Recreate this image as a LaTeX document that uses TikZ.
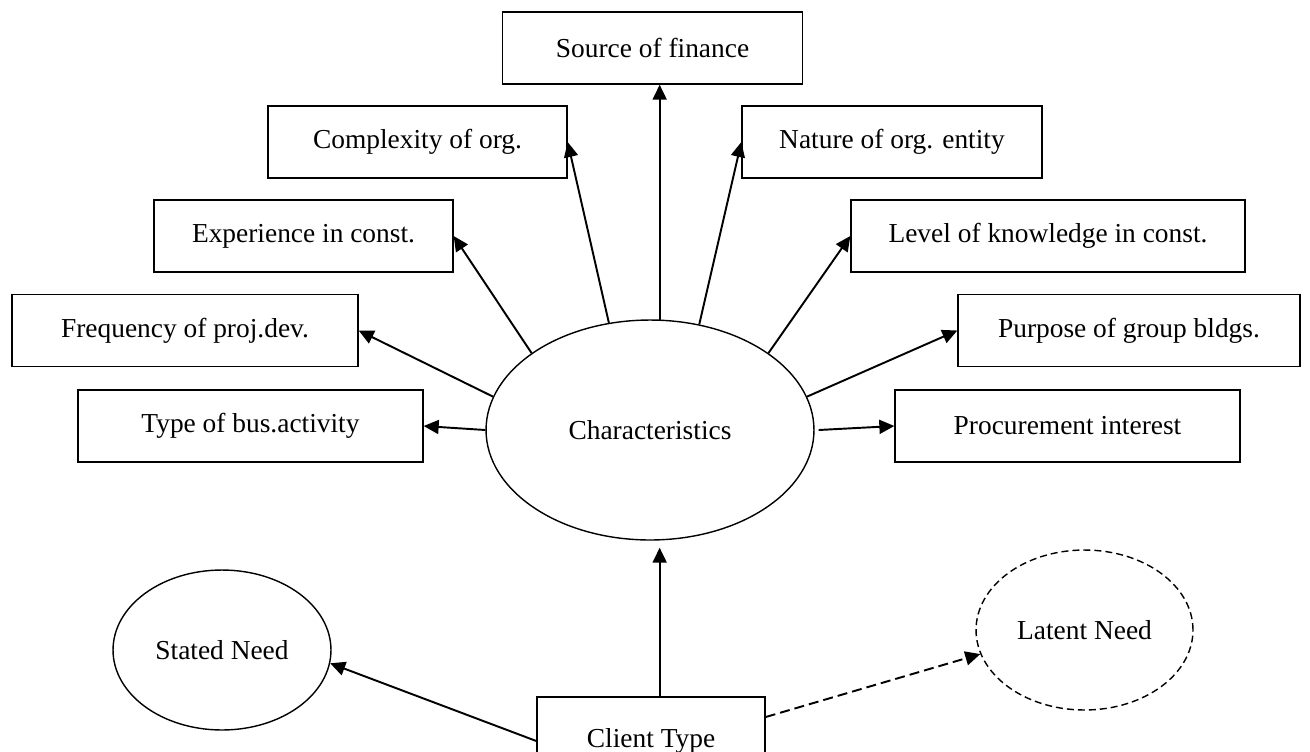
\documentclass[tikz,border=0pt]{standalone}
\usepackage{fontspec}
\setmainfont{Liberation Serif}
\usepackage{tikz}
\usetikzlibrary{positioning,arrows.meta,shapes.geometric,calc}

\begin{document}
\begin{tikzpicture}[
    x=0.02cm, y=-0.02cm,
    every node/.style={font=\fontsize{15.6}{18}\selectfont},
    factor/.style={rectangle, draw, line width=0.8pt, minimum height=1.44cm, inner sep=0pt, align=center},
    hub/.style={ellipse, draw, line width=0.8pt, inner sep=0pt},
    need/.style={ellipse, draw, line width=0.8pt, inner sep=0pt},
    link/.style={-{Triangle[length=0.3cm, width=0.28cm]}, line width=1.1pt}
]
\useasboundingbox (0,0) rectangle (1310,751);

% Zentrum
\node[hub, minimum width=6.56cm, minimum height=4.4cm] (char) at (650,430) {Characteristics};

% Merkmale links
\node[factor, minimum width=5.98cm] (complexity) at (417.5,142) {Complexity of org.};
\node[factor, minimum width=5.98cm] (experience) at (303.5,236) {Experience in const.};
\node[factor, minimum width=6.92cm] (frequency) at (185,330.5) {Frequency of proj.dev.};
\node[factor, minimum width=6.9cm] (business) at (250.5,426) {Type of bus.activity};

% Merkmale oben und rechts
\node[factor, minimum width=6cm] (finance) at (652.5,48) {Source of finance};
\node[factor, minimum width=6cm] (nature) at (892,142) {Nature of org. entity};
\node[factor, minimum width=7.88cm] (knowledge) at (1048,236) {Level of knowledge in const.};
\node[factor, minimum width=6.84cm] (purpose) at (1129,330.5) {Purpose of group bldgs.};
\node[factor, minimum width=6.9cm] (procurement) at (1067.5,426) {Procurement interest};

% Auftraggeber und Beduerfnisse
\node[factor, minimum width=4.56cm, minimum height=1.76cm] (client) at (651,741) {Client Type};
\node[need, minimum width=4.36cm, minimum height=3.2cm] (stated) at (222,650) {Stated Need};
\node[need, dash pattern=on 0.14cm off 0.08cm, minimum width=4.34cm, minimum height=3.2cm] (latent) at (1084.5,630) {Latent Need};

% Pfeile vom Zentrum
\draw[link] (char.west) -- (business.east);
\draw[link] (char.168.6) -- (frequency.east);
\draw[link] (char.147.5) -- (experience.east);
\draw[link] (char.111.6) -- (complexity.east);
\draw[link] (char.85) -- (char.85 |- finance.south);
\draw[link] (char.65.8) -- (nature.west);
\draw[link] (char.33.4) -- (knowledge.west);
\draw[link] (char.12.2) -- (purpose.west);
\draw[link] ([xshift=0.08cm]char.east) -- (procurement.west);

% Pfeile vom Auftraggeber
\draw[link] (client.north -| char.85) -- ([yshift=-0.14cm]char.south -| char.85);
\draw[link] (client.west) -- (stated.-7);
\draw[link, dash pattern=on 0.2cm off 0.1cm] ([yshift=0.48cm]client.east) -- (latent.193);

\end{tikzpicture}
\end{document}
